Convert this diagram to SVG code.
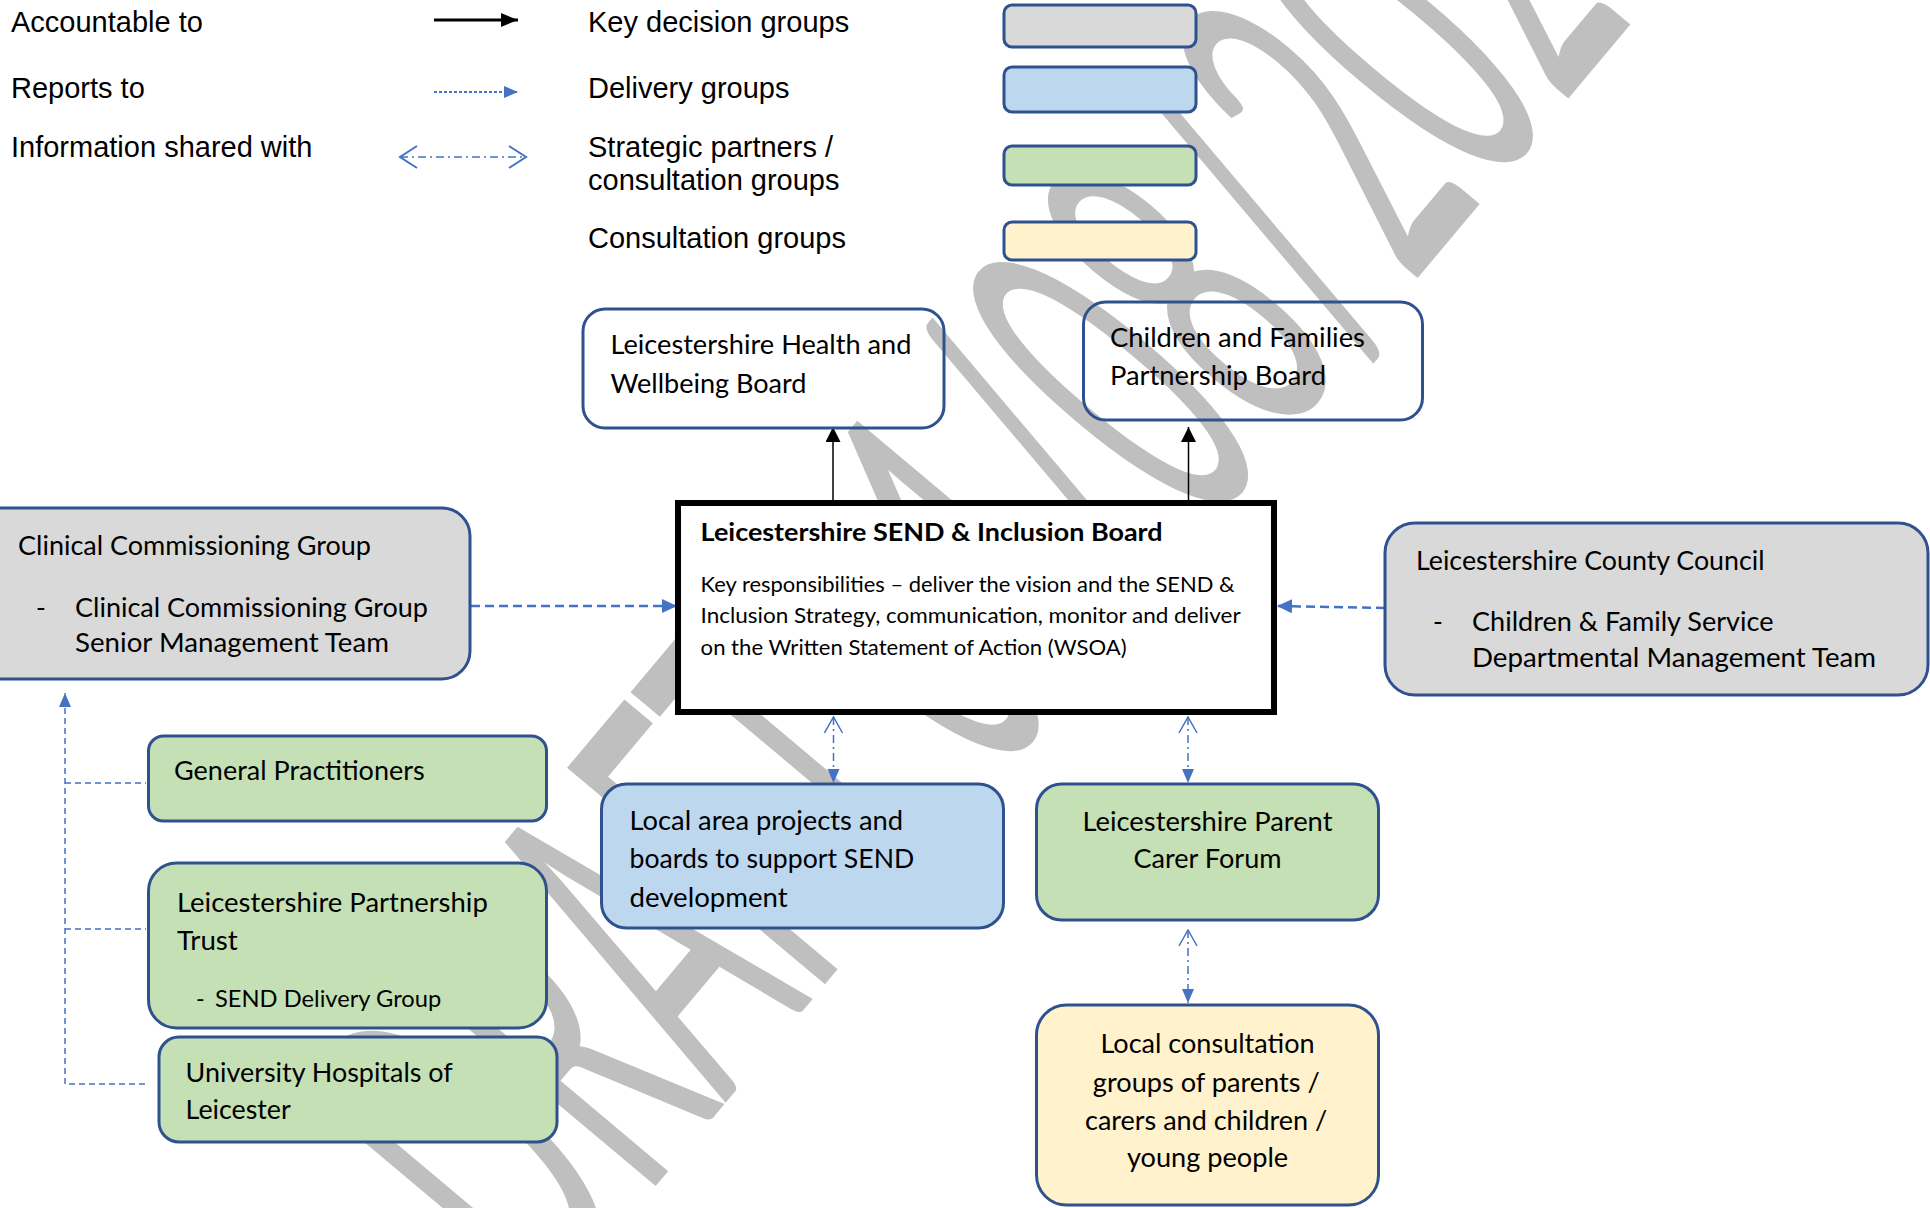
<svg xmlns="http://www.w3.org/2000/svg" width="1930" height="1208" viewBox="0 0 1930 1208">
<style>
.box{stroke:#2F528F;stroke-width:3}
.grey{fill:#D9D9D9}.blue{fill:#BDD7EE}.green{fill:#C5E0B4}.yellow{fill:#FFF2CC}
.t{font-family:Lato,"Open Sans",sans-serif;font-size:26.5px;fill:#000}
.s{font-family:Lato,"Open Sans",sans-serif;font-size:21px;fill:#000}
.b{font-family:Lato,"Open Sans",sans-serif;font-size:24px;font-weight:bold;fill:#000}
.leg{font-family:"Liberation Sans",Arial,sans-serif;font-size:29px;fill:#000}
.acc{stroke:#000;stroke-width:1.5;fill:none}
.rep{stroke:#4472C4;stroke-width:2.5;stroke-dasharray:9 5;fill:none}
.rep2{stroke:#4472C4;stroke-width:1.5;stroke-dasharray:6 4;fill:none}
.info{stroke:#4472C4;stroke-width:1.5;stroke-dasharray:8 4 2 4;fill:none}
.wm{font-family:Lato,"Open Sans",sans-serif;font-size:470px;fill:#BFBFBF}
</style>
<defs>
<marker id="hk" markerUnits="userSpaceOnUse" markerWidth="15" markerHeight="15" refX="15" refY="7.5" orient="auto"><path d="M0,0 L15,7.5 L0,15 z" fill="#000"/></marker>
<marker id="hkl" markerUnits="userSpaceOnUse" markerWidth="17" markerHeight="14" refX="17" refY="7" orient="auto"><path d="M0,0 L17,7 L0,14 z" fill="#000"/></marker>
<marker id="hb" markerUnits="userSpaceOnUse" markerWidth="15" markerHeight="14" refX="15" refY="7" orient="auto"><path d="M0,0 L15,7 L0,14 z" fill="#4472C4"/></marker>
<marker id="hbs" markerUnits="userSpaceOnUse" markerWidth="14" markerHeight="14" refX="14" refY="7" orient="auto"><path d="M0,1 L14,7 L0,13 z" fill="#4472C4"/></marker>
<marker id="ho" markerUnits="userSpaceOnUse" markerWidth="18" markerHeight="20" refX="17" refY="10" orient="auto-start-reverse"><path d="M1,1 L17,10 L1,19" fill="none" stroke="#4472C4" stroke-width="1.5"/></marker>
<marker id="hol" markerUnits="userSpaceOnUse" markerWidth="20" markerHeight="24" refX="18" refY="12" orient="auto-start-reverse"><path d="M1,1 L18,12 L1,23" fill="none" stroke="#4472C4" stroke-width="2"/></marker>
</defs>

<text class="wm" transform="translate(545,1318) rotate(-50) scale(0.43,1)">DRAFT 01/08/2020</text>

<g id="legend">
<text class="leg" x="11" y="32">Accountable to</text>
<text class="leg" x="11" y="98">Reports to</text>
<text class="leg" x="11" y="157">Information shared with</text>
<line x1="434" y1="20" x2="518" y2="20" stroke="#000" stroke-width="3" marker-end="url(#hkl)"/>
<line x1="434" y1="92" x2="518" y2="92" stroke="#4472C4" stroke-width="2" stroke-dasharray="3 2" marker-end="url(#hbs)"/>
<line x1="400" y1="157" x2="526" y2="157" class="info" stroke-width="2" marker-start="url(#hol)" marker-end="url(#hol)"/>
<text class="leg" x="588" y="32">Key decision groups</text>
<text class="leg" x="588" y="98">Delivery groups</text>
<text class="leg" x="588" y="157">Strategic partners /</text>
<text class="leg" x="588" y="190">consultation groups</text>
<text class="leg" x="588" y="248">Consultation groups</text>
<rect class="box grey" x="1004" y="5" width="192" height="42" rx="8"/>
<rect class="box blue" x="1004" y="67" width="192" height="45" rx="8"/>
<rect class="box green" x="1004" y="146" width="192" height="39" rx="8"/>
<rect class="box yellow" x="1004" y="222" width="192" height="38" rx="8"/>
</g>

<g id="connectors">
<line class="acc" x1="833" y1="500" x2="833" y2="427" marker-end="url(#hk)"/>
<line class="acc" x1="1188.5" y1="500" x2="1188.5" y2="427" marker-end="url(#hk)"/>
<line class="rep" x1="471" y1="606" x2="677" y2="606" marker-end="url(#hb)"/>
<line class="rep" x1="1385" y1="608" x2="1277" y2="606" marker-end="url(#hb)"/>
<path class="rep2" d="M145,1084 H65 V693" marker-end="url(#hbs)"/>
<line class="rep2" x1="65" y1="783" x2="146" y2="783"/>
<line class="rep2" x1="65" y1="929" x2="146" y2="929"/>
<line class="info" x1="833.5" y1="717" x2="833.5" y2="783" marker-start="url(#ho)" marker-end="url(#hbs)"/>
<line class="info" x1="1188" y1="717" x2="1188" y2="783" marker-start="url(#ho)" marker-end="url(#hbs)"/>
<line class="info" x1="1188" y1="930" x2="1188" y2="1003" marker-start="url(#ho)" marker-end="url(#hbs)"/>
</g>

<g id="health-board">
<rect class="box" fill="none" x="583" y="309" width="361" height="119" rx="22"/>
<text class="t" x="610.5" y="354" textLength="301" lengthAdjust="spacingAndGlyphs">Leicestershire Health and</text>
<text class="t" x="610.5" y="393" textLength="196" lengthAdjust="spacingAndGlyphs">Wellbeing Board</text>
</g>

<g id="children-board">
<rect class="box" fill="none" x="1083.5" y="302" width="339" height="118" rx="22"/>
<text class="t" x="1110" y="347" textLength="255" lengthAdjust="spacingAndGlyphs">Children and Families</text>
<text class="t" x="1110" y="385" textLength="216" lengthAdjust="spacingAndGlyphs">Partnership Board</text>
</g>

<g id="send-board">
<rect x="678" y="503" width="596" height="209" fill="#fff" stroke="#000" stroke-width="6"/>
<text class="b" x="700.6" y="541" textLength="462" lengthAdjust="spacingAndGlyphs">Leicestershire SEND &amp; Inclusion Board</text>
<text class="s" x="700.6" y="592" textLength="534" lengthAdjust="spacingAndGlyphs">Key responsibilities – deliver the vision and the SEND &amp;</text>
<text class="s" x="700.6" y="623" textLength="540" lengthAdjust="spacingAndGlyphs">Inclusion Strategy, communication, monitor and deliver</text>
<text class="s" x="700.6" y="655" textLength="426" lengthAdjust="spacingAndGlyphs">on the Written Statement of Action (WSOA)</text>
</g>

<g id="ccg">
<rect class="box grey" x="-40" y="508" width="510" height="171" rx="28"/>
<text class="t" x="18" y="555" textLength="353" lengthAdjust="spacingAndGlyphs">Clinical Commissioning Group</text>
<text class="t" x="36" y="617">-</text>
<text class="t" x="75" y="617" textLength="353" lengthAdjust="spacingAndGlyphs">Clinical Commissioning Group</text>
<text class="t" x="75" y="652" textLength="314" lengthAdjust="spacingAndGlyphs">Senior Management Team</text>
</g>

<g id="lcc">
<rect class="box grey" x="1385" y="523" width="543" height="172" rx="30"/>
<text class="t" x="1416" y="570" textLength="348.5" lengthAdjust="spacingAndGlyphs">Leicestershire County Council</text>
<text class="t" x="1433" y="631">-</text>
<text class="t" x="1472" y="631" textLength="301.5" lengthAdjust="spacingAndGlyphs">Children &amp; Family Service</text>
<text class="t" x="1472" y="667" textLength="404" lengthAdjust="spacingAndGlyphs">Departmental Management Team</text>
</g>

<g id="gp">
<rect class="box green" x="148.5" y="736" width="398" height="85" rx="15"/>
<text class="t" x="174" y="780" textLength="250.7" lengthAdjust="spacingAndGlyphs">General Practitioners</text>
</g>

<g id="lpt">
<rect class="box green" x="148.5" y="863" width="398" height="165" rx="28"/>
<text class="t" x="177" y="912" textLength="310.8" lengthAdjust="spacingAndGlyphs">Leicestershire Partnership</text>
<text class="t" x="177" y="950" textLength="60.8" lengthAdjust="spacingAndGlyphs">Trust</text>
<text class="t" x="196" y="1007" style="font-size:23.5px">-</text>
<text class="t" x="215" y="1007" style="font-size:23.5px" textLength="226.2" lengthAdjust="spacingAndGlyphs">SEND Delivery Group</text>
</g>

<g id="uhl">
<rect class="box green" x="159" y="1037" width="398" height="105" rx="20"/>
<text class="t" x="185.6" y="1082" textLength="267.1" lengthAdjust="spacingAndGlyphs">University Hospitals of</text>
<text class="t" x="185.6" y="1119" textLength="105.2" lengthAdjust="spacingAndGlyphs">Leicester</text>
</g>

<g id="local-area">
<rect class="box blue" x="601.5" y="784" width="402" height="144" rx="25"/>
<text class="t" x="629.5" y="830" textLength="273.5" lengthAdjust="spacingAndGlyphs">Local area projects and</text>
<text class="t" x="629.5" y="868" textLength="284.7" lengthAdjust="spacingAndGlyphs">boards to support SEND</text>
<text class="t" x="629.5" y="907" textLength="158.2" lengthAdjust="spacingAndGlyphs">development</text>
</g>

<g id="parent-carer-forum">
<rect class="box green" x="1036.5" y="784" width="342" height="136" rx="25"/>
<text class="t" x="1082.5" y="831" textLength="250" lengthAdjust="spacingAndGlyphs">Leicestershire Parent</text>
<text class="t" x="1133.5" y="868" textLength="148" lengthAdjust="spacingAndGlyphs">Carer Forum</text>
</g>

<g id="local-consultation">
<rect class="box yellow" x="1036.5" y="1005" width="342" height="200" rx="30"/>
<text class="t" x="1100.4" y="1053" textLength="214.3" lengthAdjust="spacingAndGlyphs">Local consultation</text>
<text class="t" x="1092.8" y="1092" textLength="227" lengthAdjust="spacingAndGlyphs">groups of parents /</text>
<text class="t" x="1085" y="1130" textLength="242.3" lengthAdjust="spacingAndGlyphs">carers and children /</text>
<text class="t" x="1127" y="1167" textLength="161.2" lengthAdjust="spacingAndGlyphs">young people</text>
</g>
</svg>
